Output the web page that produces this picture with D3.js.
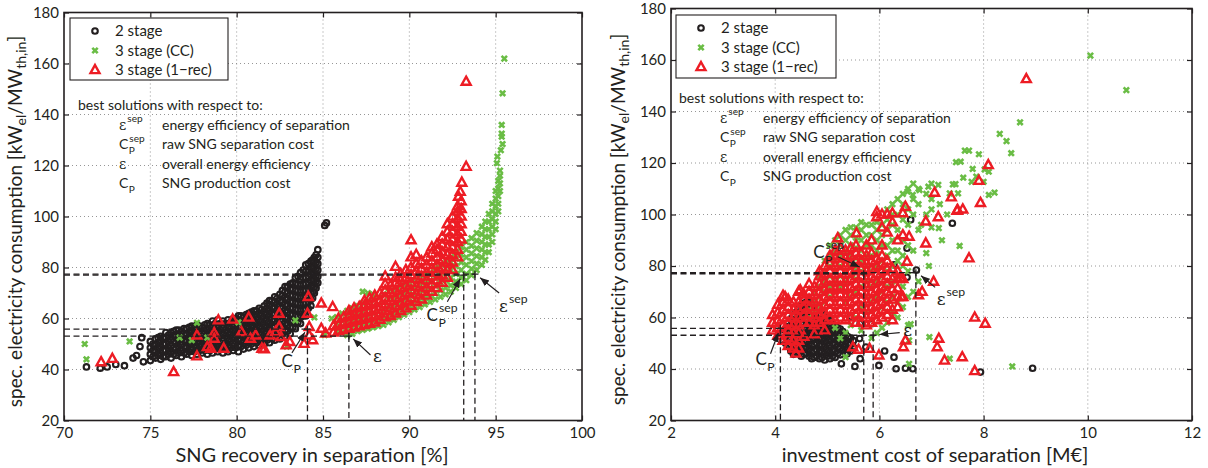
<!DOCTYPE html>
<html><head><meta charset="utf-8">
<script src="https://cdn.jsdelivr.net/npm/d3@7"></script>
<style>
body{margin:0;background:#fff}
svg text{font-family:Lato,"Open Sans",sans-serif;fill:#231f20}
</style>
</head><body>
<svg id="chart" width="1208" height="468"></svg>
<script>
// ---------------- DATA ----------------
const yTicks = [20,40,60,80,100,120,140,160,180];
const xTicksLeft = [70,75,80,85,90,95,100];
const xTicksRight = [2,4,6,8,10,12];
const seriesNames = ["2 stage","3 stage (CC)","3 stage (1\u2212rec)"];
const xTitleLeft = "SNG recovery in separation [%]";
const xTitleRight = "investment cost of separation [M\u20ac]";

// left panel: [recovery %, [consumption values]]
const recov2Stage = [
 [71.3,[41]],[72.1,[40.5]],[72.5,[41]],[73.0,[42]],[73.5,[41.5]],[74.0,[44.5]],[74.2,[45.5]],[74.4,[49]],[74.5,[52.5]],[74.6,[43]],
 [75.0,[43.5,46,48.5,51]],[75.15,[45,47.5,50]],[75.3,[44.5,47,49.5,52]],[75.45,[45.5,48,50.5,52.5]],
 [75.6,[44,46.5,49,51.5,53]],[75.75,[45,47.5,50,52.5]],[75.9,[45,47.5,50,52.5,54.5]],[76.05,[46,48.5,51,53.5]],
 [76.2,[44.5,47,49.5,52,54.5]],[76.35,[46,48.5,51,53.5,55]],[76.5,[45.5,48,50.5,53,55.5]],[76.65,[46.5,49,51.5,54,55.5]],
 [76.8,[45,47.5,50,52.5,55]],[76.95,[46.5,49,51.5,54,56]],[77.1,[46,48.5,51,53.5,56]],[77.25,[47,49.5,52,54.5,56.5]],
 [77.4,[45.5,48,50.5,53,55.5,57]],[77.55,[47,49.5,52,54.5,56.5]],[77.7,[46,48.5,51,53.5,56,57.5]],[77.85,[47.5,50,52.5,55,57]],
 [78.0,[46.5,49,51.5,54,56.5]],[78.15,[47.5,50,52.5,55,57.5]],[78.3,[46,48.5,51,53.5,56,58]],[78.45,[47.5,50,52.5,55,57.5]],
 [78.6,[46.5,49,51.5,54,56.5,59]],[78.75,[48,50.5,53,55.5,58]],[78.9,[47,49.5,52,54.5,57,59.5]],[79.05,[48,50.5,53,55.5,58]],
 [79.2,[46.5,49,51.5,54,56.5,59]],[79.35,[48,50.5,53,55.5,58]],[79.5,[47,49.5,52,54.5,57,59.5]],[79.65,[48.5,51,53.5,56,58.5]],
 [79.8,[47.5,50,52.5,55,57.5,60]],[79.95,[48.5,51,53.5,56,58.5,60]],[80.1,[47,49.5,52,54.5,57,59.5,61]],
 [80.25,[49,51.5,54,56.5,59,61]],[80.4,[48,50.5,53,55.5,58,60.5]],[80.55,[49.5,52,54.5,57,59.5,61.5]],
 [80.7,[48.5,51,53.5,56,58.5,61,62]],[80.85,[50,52.5,55,57.5,60,62.5]],[81.0,[49,51.5,54,56.5,59,61.5,63]],
 [81.15,[50.5,53,55.5,58,60.5,63]],[81.3,[49.5,52,54.5,57,59.5,62,64]],[81.45,[51,53.5,56,58.5,61,63.5]],
 [81.6,[50,52.5,55,57.5,60,62.5,65]],[81.75,[51.5,54,56.5,59,61.5,64,66]],[81.9,[50.5,53,55.5,58,60.5,63,65.5,67]],
 [82.05,[52,54.5,57,59.5,62,64.5,67]],[82.2,[51.5,54,56.5,59,61.5,64,66.5,68.5]],[82.35,[53,55.5,58,60.5,63,65.5,68]],
 [82.5,[52,54.5,57,59.5,62,64.5,67,69.5]],[82.65,[54,56.5,59,61.5,64,66.5,69,71]],
 [82.8,[53,55.5,58,60.5,63,65.5,68,70.5,72.5]],[82.95,[55,57.5,60,62.5,65,67.5,70,72.5]],
 [83.1,[54,56.5,59,61.5,64,66.5,69,71.5,73.5]],[83.25,[56.5,59,61.5,64,66.5,69,71.5,74]],
 [83.4,[56,58.5,61,63.5,66,68.5,71,73.5,76]],[83.55,[58.5,61,63.5,66,68.5,71,73.5,76.5]],
 [83.7,[58,60.5,63,65.5,68,70.5,73,75.5,78]],[83.85,[61,63.5,66,68.5,71,73.5,76,79]],
 [84.0,[61,63.5,66,68.5,71,73.5,76,78.5,81]],[84.15,[64,66.5,69,71.5,74,76.5,79,81.5]],
 [84.3,[65,67.5,70,72.5,75,77.5,80,82.5]],[84.4,[68,70.5,73,75.5,78,80.5,83]],
 [84.5,[70,72.5,75,77.5,80,82.5,84]],[84.6,[72,74.5,77,79.5,82,85]],[84.7,[74,76.5,79,81.5,84,87]],
 [85.1,[96.5]],[85.2,[97.5]]
];
const recov3CC = [
 [71.2,[50]],[71.3,[44]],[73.8,[51]],[76.7,[52.5]],[77.4,[51.5]],[77.7,[58.3]],[78.3,[52.5]],[80.1,[58.5]],
 [82.9,[49]],[83.4,[59.3]],[84.5,[60.4]],[85.1,[53.5]],[85.5,[60]],
 [85.8,[55,58,60.5]],[86.1,[54.5,57,59.5,62]],[86.4,[53.5,56,58.5,61,63]],[86.7,[54,56.5,59,61.5,64]],
 [87.0,[55,57.5,60,62.5,65]],[87.3,[55.5,58,60.5,63,66,70.5]],[87.6,[56,58.5,61,64,67,70]],
 [87.9,[56.5,59,62,65,68,69.5]],[88.2,[57,59.5,62.5,65.5,68.5]],[88.5,[57.5,60,63,66.5,69.5]],
 [88.8,[58.5,61,64,67.5,70.5]],[89.1,[59.5,62,65,68,71]],[89.4,[60.5,63,66,69,72]],
 [89.7,[61.5,64,67,70,73]],[90.0,[62.5,65,68,71,74]],[90.3,[63.5,66,69,72,75]],
 [90.6,[64.5,67,70,73,76]],[90.9,[65.5,68,71,74,77]],[91.2,[66.5,69,72,75,78]],
 [91.5,[67.5,70,73,76,79,80]],[91.8,[68.5,71,74,77,80]],[92.1,[69.5,72,75,78,81,83]],
 [92.4,[70.5,73,76,79,82,84]],[92.7,[72,74.5,77.5,80.5,83.5,86]],[93.0,[73.5,76,79,82,85,88]],
 [93.3,[75,77.5,81,84,87,90]],[93.6,[77,79.5,82.5,85.5,88.5,91.5]],[93.9,[79,81.5,84.5,87.5,90.5,93.5]],
 [94.2,[81,84,87,90,93,96]],[94.4,[83,86,89,92,95,98]],[94.6,[86,89,92,95,98,101]],
 [94.8,[90,93,96,99,102,105]],[95.0,[95,98,101,104,107,110]],[95.15,[102,105,108,111,114]],
 [95.25,[110,113,116,118]],[95.07,[120.9]],[95.1,[123.5]],[95.3,[126]],[95.4,[128.4]],
 [95.35,[131.3,132.5,135.9]],[95.4,[148.3]],[95.5,[161.9]]
];
const recov3Rec = [
 [72.15,[42.9]],[72.8,[44.2]],[76.35,[39]],[77.7,[45.2,53.4]],[78.3,[48.8]],[78.5,[48.2]],[78.7,[54.3,52.1]],
 [78.94,[59.3]],[79.25,[48.2]],[79.77,[59.6]],[80.28,[54.7]],[80.7,[60.4]],[80.8,[52.1]],[81.1,[53.4]],
 [81.46,[48.2]],[81.6,[48]],[81.94,[53.4]],[82.25,[54.7]],[82.46,[61.9,56.7]],[82.56,[52.8]],[82.87,[49.5]],
 [83.08,[50.8]],[83.9,[50.1]],[84.1,[61.9]],[84.15,[68.5]],[84.2,[53.4,56.7]],[84.4,[51.5]],[84.9,[56,65.9]],
 [85.15,[54.1]],[85.56,[64.5]],
 [85.6,[54.5,57]],[85.9,[55,57.5,60]],[86.2,[55.5,58,60.5]],[86.5,[56,58.5,61,63]],[86.8,[56.5,59,61.5,64]],
 [87.1,[57,59.5,62,64.5]],[87.4,[57.5,60,62.5,65,67]],[87.7,[58,60.5,63,65.5,68]],[88.0,[58.5,61,63.5,66,69]],
 [88.3,[59.5,62,64.5,67,70]],[88.6,[60.5,63,65.5,68,71,73.5,76.5]],[88.9,[61,64,67,70,73]],
 [89.2,[62,65,68,71,74,76,80.3]],[89.5,[63,66,69,72,75,77.5]],[89.8,[64,67,70,73,76,79]],
 [90.1,[65,68,71,74,77,80,84,90.7]],[90.4,[66.5,69.5,72.5,75.5,78.5,81.5,85]],[90.7,[67.5,70.5,73.5,76.5,79.5,82.5]],
 [91.0,[69,72,75,78,81,84]],[91.3,[70.5,73.5,76.5,79.5,82.5,85.5,88]],[91.6,[72,75,78,81,84,87,89]],
 [91.9,[74,77,80,83,86,89,92]],[92.2,[76,79,82,85,88,91,94,97]],[92.5,[79,82,85,88,91,94,97,100]],
 [92.8,[84,87,90,93,96,99,102,104]],[93.0,[91,94,97,100,103,106]],
 [92.85,[107.8]],[92.95,[109.7]],[93.04,[113.3]],[93.29,[119.5,152.9]]
];

// right panel: [investment cost M€, [consumption values]]
const cost2Stage = [
 [4.15,[51,53.5]],[4.2,[50,52.5,55]],[4.25,[49,51.5,54,56.5]],[4.3,[47,49.5,52,54.5,57,59.5]],
 [4.35,[45.7,48,50.5,53,55.5,58,61]],[4.4,[46.5,49,51.5,54,56.5,59,62]],[4.45,[46,48.5,51,53.5,56,58.5,61,63.5]],
 [4.5,[45,47.5,50,52.5,55,57.5,60,62.5,65]],[4.55,[45.7,48,50.5,53,55.5,58,60.5,63,65.5]],
 [4.6,[46,48.5,51,53.5,56,58.5,61,63.5,66]],[4.65,[45,47.5,50,52.5,55,57.5,60,62.5,65,66.5]],
 [4.7,[44,46.5,49,51.5,54,56.5,59,61.5,64,66]],[4.75,[44.5,47,49.5,52,54.5,57,59.5,62,64.5]],
 [4.8,[45,47.5,50,52.5,55,57.5,60,62.5]],[4.85,[44,46.5,49,51.5,54,56.5,59,61.5]],
 [4.9,[44.5,47,49.5,52,54.5,57,59.5]],[4.95,[43.5,46,48.5,51,53.5,56,58.5,61]],
 [5.0,[45,47.5,50,52.5,55,57.5,60]],[5.05,[44,46.5,49,51.5,54,56.5,59]],[5.1,[45,47.5,50,52.5,55,57.5]],
 [5.15,[44.5,47,49.5,52,54.5,57]],[5.2,[46,48.5,51,53.5,56]],[5.25,[45.5,48,50.5,53,55.5]],
 [5.3,[47,49.5,52,54.5]],[5.35,[46,48.5,51,53.5]],[5.4,[47.5,50,52.5]],[5.45,[47,49.5,52,60.5]],[5.5,[48.5,51]],
 [5.27,[42]],[5.38,[45.9]],[5.53,[41]],[5.63,[44,57.6]],[5.74,[48.5]],[5.62,[51.8]],
 [5.85,[57.6]],[5.99,[41.4]],[6.1,[47]],[6.28,[44.6,80.4]],[6.32,[40.1]],[6.5,[40.3]],[6.64,[40.1]],
 [7.94,[38.8]],[8.94,[40.3]],[6.53,[86.9,75.6]],[6.71,[78.4]],[6.6,[98]],[7.4,[96.6]]
];
const cost3CC = [
 [4.65,[60,63]],[4.75,[62,66,70]],[4.85,[64,68,72,76]],[4.95,[66,70,74,78,82]],[5.05,[68,72,76,80,84,88]],
 [5.15,[56,70,74,78,82,86,90]],[5.25,[52,72,76,80,84,88,92]],[5.35,[54,66,74,78,82,86,90,94,44.6]],
 [5.45,[57,68,76,80,84,88,92,95]],[5.55,[60,70,75,79,83,87,91,95]],[5.65,[55,64,72,78,82,86,90,94,97]],
 [5.75,[62,68,74,80,84,88,92,96]],[5.85,[52,66,72,78,84,88,92,96]],[5.95,[54,68,74,80,86,90,94,97]],
 [6.05,[56,64,70,76,82,88,92,96]],[6.15,[58,66,72,78,84,88,94,98,102]],[6.25,[62,68,74,80,86,90,96,100,104]],
 [6.35,[60,66,76,82,86,94,100,106]],[6.45,[64,72,80,84,90,98,104,108]],[6.55,[57,68,78,88,96,102,110]],
 [6.65,[70,86,100,106,112]],[6.75,[74,94,104,110]],[6.9,[85,100,108]],[7.0,[95,102,106,112]],
 [6.96,[52.4]],[6.6,[57.4]],[6.57,[51.1,42]],[7.35,[44,108.2]],[8.55,[41]],[7.14,[94.7]],[7.54,[87.8]],
 [10.05,[161.7]],[10.74,[148.3]],[8.70,[135.8]],[8.31,[131.3]],[8.44,[128.5]],[8.53,[123.8]],
 [7.64,[124.8]],[7.72,[124.8]],[7.91,[123.4]],[7.47,[120.3]],[7.56,[120.5]],[7.79,[117.7]],
 [8.02,[117.5]],[8.10,[116.6,107.6]],[7.61,[114.3]],[7.77,[112.7]],[7.86,[114.7]],[8.0,[112.7]],
 [7.41,[111.7]],[7.46,[111.8]],[7.51,[108.2]],[8.21,[108.5]],[6.94,[110.8]],[7.13,[111.5]],
 [6.77,[109.5]],[6.54,[108.9]],[6.64,[107.6]],[7.16,[104]],[7.3,[100]],[6.8,[96]],[7.2,[90]],[6.95,[80]]
];
const cost3Rec = [
 [3.95,[55,58,61]],[4.05,[53,56,59,62,65]],[4.15,[51,54,57,60,63,66,68.5]],[4.25,[49,52,55,58,61,64,67]],
 [4.35,[48,51,54,57,60,63,66]],[4.45,[48,51,54,57,60,63,66,70]],[4.55,[52.5,58,61,64,67,69]],
 [4.65,[58,61,64,67,70,73]],[4.75,[53.5,57,60,63,66,69,72]],[4.85,[58,61,64,67,70,73,76,78]],
 [4.95,[55,59,62,65,68,71,74,77,80]],[5.05,[60,63,66,69,72,75,78,81,84]],
 [5.15,[59,62,65,68,71,74,77,80,83,86]],[5.25,[60,63,66,69,72,75,78,81,84,87]],
 [5.35,[59,62,65,68,71,74,77,80,83,86]],[5.45,[60,63,66,69,72,75,78,81,84,87]],
 [5.55,[58,61,64,67,70,73,76,79,82,85,88]],[5.65,[58,61,64,67,70,73,76,79,82,85]],
 [5.75,[57,60,63,66,69,72,75,78,81,84,88]],[5.85,[58,61,64,67,70,73,76,79,82,85,90]],
 [5.95,[59,62,65,68,71,74,77,80,83,99,101]],[6.05,[60,63,66,69,72,75,78,81,84,88,95,100]],
 [6.15,[61,64,67,70,73,76,79,82,93,100]],[6.25,[59,63,67,71,75,79,97,100.5]],[6.35,[64,68,71.3,75,78,90]],
 [6.45,[68,75,92,100.5]],[6.5,[103,51.1]],[6.4,[75.2]],[6.42,[68]],[6.53,[81.7]],[6.57,[91.4]],
 [6.75,[68.7]],[6.82,[70]],[6.89,[88.8,97.3]],[7.04,[73.9]],[7.13,[99]],[7.5,[101.8]],[7.6,[102]],
 [7.94,[104.5]],[7.72,[83]],[7.83,[60,39.2]],[8.03,[57.6]],[7.14,[51.8]],[7.11,[48.5]],[6.46,[48.5]],
 [7.25,[43.3]],[7.59,[44.6]],[5.81,[47.9]],[5.99,[45.3]],[5.49,[48.5]],[5.6,[47.5]],[7.38,[106.7]],
 [7.49,[101.5]],[7.91,[113.1]],[8.09,[119.2]],[8.82,[152.6]],[7.06,[108.5]],[5.2,[90.8]],[5.56,[92.7]],
 [4.4,[46]],[4.19,[68]],[4.48,[70.6]]
];

// best solutions: [label, recovery, cost, consumption]
const bestSolutions = [
 ["CP", 84.1, 4.10, 55.8],
 ["eps", 86.5, 5.88, 53.1],
 ["CPsep", 93.15, 5.70, 77.0],
 ["epssep", 93.8, 6.70, 77.4]
];

// ---------------- DRAW ----------------
const svg = d3.select("#chart");
const colors = {two:"#231f20", cc:"#6abd45", rec:"#ed1c24"};
const flat = cols => cols.flatMap(([x, ys]) => ys.map(y => [x, y]));

function symbol(g, x, y, base, sub, sup, fs) {
  const t = g.append("text").attr("x", x).attr("y", y).attr("font-size", fs)
    .style("font-family", base === "\u03b5" ? "'DejaVu Serif',serif" : null).text(base);
  const w = t.node().getComputedTextLength();
  if (sub) g.append("text").attr("x", x + w + 0.5).attr("y", y + fs*0.33).attr("font-size", fs*0.72).text(sub);
  if (sup) g.append("text").attr("x", x + w + 1).attr("y", y - fs*0.52).attr("font-size", fs*0.72).text(sup);
}
function symFor(g, key, x, y, fs) {
  if (key === "CP") symbol(g, x, y, "C", "P", null, fs);
  if (key === "CPsep") symbol(g, x, y, "C", "P", "sep", fs);
  if (key === "eps") symbol(g, x, y, "\u03b5", null, null, fs);
  if (key === "epssep") symbol(g, x, y, "\u03b5", null, "sep", fs);
}

function marker(g, type, x, y) {
  if (type === "two") g.append("circle").attr("cx", x).attr("cy", y).attr("r", 2.8)
      .attr("fill", "none").attr("stroke", colors.two).attr("stroke-width", 2.1);
  else if (type === "cc") g.append("path").attr("transform", `translate(${x},${y})`)
      .attr("d", "M-2.7,-2.7L2.7,2.7M-2.7,2.7L2.7,-2.7").attr("stroke", colors.cc).attr("stroke-width", 2.6).attr("fill","none");
  else g.append("path").attr("transform", `translate(${x},${y})`)
      .attr("d", "M0,-5L4.5,3.1L-4.5,3.1Z").attr("stroke", colors.rec).attr("stroke-width", 2.4).attr("fill","none").attr("stroke-linejoin","miter");
}

svg.append("defs").append("marker").attr("id","ah").attr("viewBox","0 0 10 10").attr("refX",10).attr("refY",5)
  .attr("markerWidth",9).attr("markerHeight",9).attr("markerUnits","userSpaceOnUse").attr("orient","auto")
  .append("path").attr("d","M0,1L10,5L0,9Z").attr("fill","#231f20");

function panel(cfg) {
  const x = d3.scaleLinear().domain(cfg.xDomain).range(cfg.xRange);
  const y = d3.scaleLinear().domain([20,180]).range(cfg.yRange);
  const g = svg.append("g");
  const [x0,x1] = cfg.xRange, [y0,y1] = cfg.yRange;

  // grid
  const grid = g.append("g").attr("stroke","#8a8a8a").attr("stroke-width",0.9).attr("stroke-dasharray","1,3");
  cfg.xTicks.slice(1,-1).forEach(v => grid.append("line").attr("x1",x(v)).attr("x2",x(v)).attr("y1",y0).attr("y2",y1));
  yTicks.slice(1,-1).forEach(v => grid.append("line").attr("y1",y(v)).attr("y2",y(v)).attr("x1",x0).attr("x2",x1));

  // annotation block
  const a = g.append("g").attr("font-size", 14);
  a.append("text").attr("x", cfg.note.x).attr("y", cfg.note.y).text("best solutions with respect to:");
  const rows = [["epssep","energy efficiency of separation"],["CPsep","raw SNG separation cost"],["eps","overall energy efficiency"],["CP","SNG production cost"]];
  rows.forEach((r,i) => {
    const yy = cfg.note.y + 19.5*(i+1);
    symFor(a, r[0], cfg.note.x + 41, yy, 14);
    a.append("text").attr("x", cfg.note.x + 84).attr("y", yy).text(r[1]);
  });

  // data markers
  const md = g.append("g");
  flat(cfg.two).forEach(d => marker(md, "two", x(d[0]), y(d[1])));
  flat(cfg.cc).forEach(d => marker(md, "cc", x(d[0]), y(d[1])));
  flat(cfg.rec).forEach(d => marker(md, "rec", x(d[0]), y(d[1])));

  // best-solution guides
  const gd = g.append("g").attr("stroke","#231f20").attr("stroke-width",1.3).attr("stroke-dasharray","6,3.5").attr("fill","none");
  bestSolutions.forEach(b => {
    const bx = x(b[cfg.col]), by = y(b[3]);
    gd.append("line").attr("x1", x0).attr("x2", bx).attr("y1", by).attr("y2", by);
    gd.append("line").attr("x1", bx).attr("x2", bx).attr("y1", by).attr("y2", y0);
    g.append("path").attr("d", `M${bx-3.5},${by}H${bx+3.5}M${bx},${by-3.5}V${by+3.5}`).attr("stroke","#231f20").attr("stroke-width",1.3);
  });
  cfg.ann.forEach(an => {
    g.append("line").attr("x1", x(an.from[0])).attr("y1", y(an.from[1])).attr("x2", x(an.to[0])).attr("y2", y(an.to[1]))
      .attr("stroke","#231f20").attr("stroke-width",1.2).attr("marker-end","url(#ah)");
    symFor(g, an.key, x(an.at[0]), y(an.at[1]), 17);
  });

  // frame & axes
  g.append("rect").attr("x",x0).attr("y",y1).attr("width",x1-x0).attr("height",y0-y1)
    .attr("fill","none").attr("stroke","#231f20").attr("stroke-width",1.6);
  const ax = g.append("g").attr("transform",`translate(0,${y0})`)
    .call(d3.axisBottom(x).tickValues(cfg.xTicks).tickSize(-5).tickSizeOuter(0).tickPadding(7).tickFormat(d3.format("d")));
  const at = g.append("g").attr("transform",`translate(0,${y1})`)
    .call(d3.axisTop(x).tickValues(cfg.xTicks).tickSize(-5).tickSizeOuter(0).tickFormat(""));
  const ayl = g.append("g").attr("transform",`translate(${x0},0)`)
    .call(d3.axisLeft(y).tickValues(yTicks).tickSize(-5).tickSizeOuter(0).tickPadding(5));
  const ayr = g.append("g").attr("transform",`translate(${x1},0)`)
    .call(d3.axisRight(y).tickValues(yTicks).tickSize(-5).tickSizeOuter(0).tickFormat(""));
  [ax,at,ayl,ayr].forEach(s => {
    s.select(".domain").remove();
    s.selectAll("line").attr("stroke","#231f20").attr("stroke-width",1.2);
    s.selectAll("text").attr("font-size",15).style("font-family","Lato,'Open Sans',sans-serif").attr("fill","#231f20");
  });

  // axis titles
  g.append("text").attr("x",cfg.xTitleX).attr("y",462).attr("text-anchor","middle").attr("font-size",20).text(cfg.xTitle);
  const yt = g.append("text").attr("transform",`translate(${cfg.yTitleX},${(y0+y1)/2 + 5}) rotate(-90)`)
    .attr("text-anchor","middle").attr("font-size",19);
  yt.append("tspan").text("spec. electricity consumption [kW");
  yt.append("tspan").attr("font-size",14).attr("dy",4).text("el");
  yt.append("tspan").attr("dy",-4).text("/MW");
  yt.append("tspan").attr("font-size",14).attr("dy",4).text("th,in");
  yt.append("tspan").attr("dy",-4).text("]");

  // legend
  const L = cfg.legend;
  const lg = g.append("g");
  lg.append("rect").attr("x",L.x).attr("y",L.y).attr("width",L.w).attr("height",L.h)
    .attr("fill","#fff").attr("stroke","#231f20").attr("stroke-width",1.1);
  ["two","cc","rec"].forEach((t,i) => {
    const yy = L.y + 13 + i*19.5;
    marker(lg, t, L.x + 25, yy);
    lg.append("text").attr("x", L.x + 45).attr("y", yy + 5).attr("font-size",15).text(seriesNames[i]);
  });
}

panel({
  xDomain:[70,100], xRange:[64,582], yRange:[420.5,12.5], xTicks:xTicksLeft, col:1,
  two:recov2Stage, cc:recov3CC, rec:recov3Rec, xTitle:xTitleLeft, xTitleX:312, yTitleX:22,
  legend:{x:70,y:18,w:158,h:62}, note:{x:78,y:110},
  ann:[
    {key:"CP", at:[82.6,41], from:[83.2,46.5], to:[83.95,54.6]},
    {key:"eps", at:[87.9,43], from:[87.75,45.7], to:[86.75,52]},
    {key:"CPsep", at:[91.0,59], from:[92.2,66.6], to:[92.95,75.6]},
    {key:"epssep", at:[95.2,62.5], from:[95.2,70], to:[94.1,76]}
  ]
});
panel({
  xDomain:[2,12], xRange:[671,1192], yRange:[420.5,8.5], xTicks:xTicksRight, col:2,
  two:cost2Stage, cc:cost3CC, rec:cost3Rec, xTitle:xTitleRight, xTitleX:935, yTitleX:625,
  legend:{x:676,y:15,w:160,h:63}, note:{x:679,y:103},
  ann:[
    {key:"CP", at:[3.62,41.5], from:[3.91,45.9], to:[4.06,54]},
    {key:"eps", at:[6.46,52.8], from:[6.39,54.1], to:[6.0,53.4]},
    {key:"CPsep", at:[4.73,83], from:[5.2,83.6], to:[5.62,79.6]},
    {key:"epssep", at:[7.1,65], from:[7.07,71.7], to:[6.8,76.2]}
  ]
});
</script>
</body></html>
